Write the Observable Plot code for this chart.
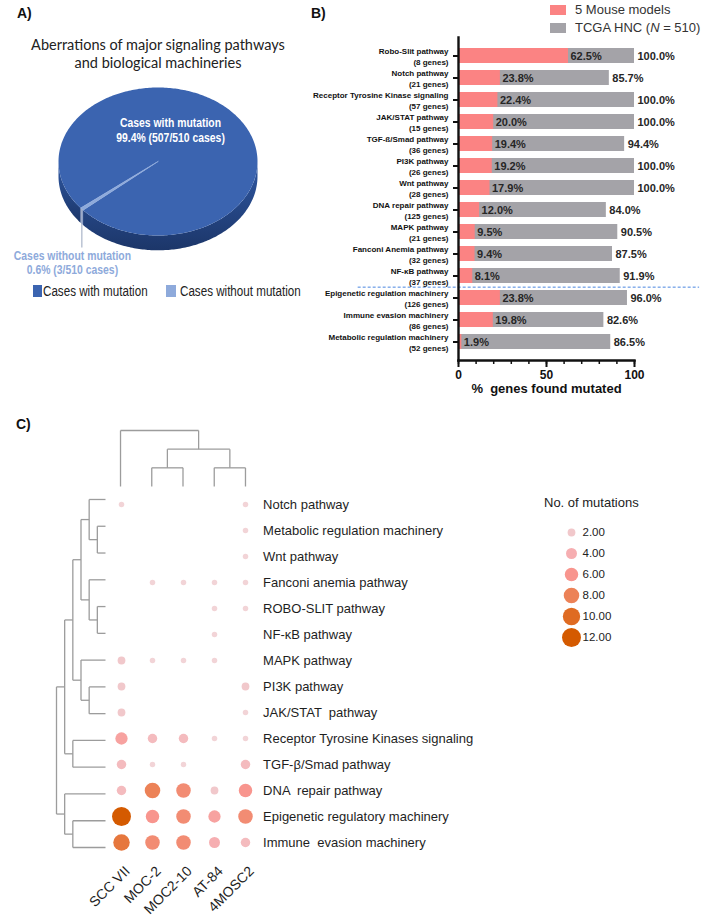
<!DOCTYPE html>
<html>
<head>
<meta charset="utf-8">
<script src="https://cdn.jsdelivr.net/npm/d3@7"></script>
<script src="https://cdn.jsdelivr.net/npm/@observablehq/plot@0.6"></script>
<style>
  html,body{margin:0;padding:0;background:#fff;}
  body{width:714px;height:921px;position:relative;overflow:hidden;font-family:"Liberation Sans",Arial,sans-serif;color:#222;}
  .abs{position:absolute;}
  .panel{font-weight:bold;font-size:14px;color:#111;}
  .narrow{transform:scaleX(0.83);transform-origin:left center;}
  svg{overflow:visible;}
</style>
</head>
<body>
<div class="abs panel" style="left:17px;top:5px">A)</div>
<div class="abs panel" style="left:311px;top:5px">B)</div>
<div class="abs panel" style="left:16px;top:416px">C)</div>
<div id="titleA" class="abs" style="left:0;top:36px;width:316px;text-align:center;font-family:Lato,'Open Sans',sans-serif;font-size:14.5px;line-height:18px;color:#222"></div>
<div id="pieA" class="abs" style="left:0;top:80px"></div>
<div id="legA" class="abs" style="left:0;top:283px;font-size:14px;color:#222"></div>
<div id="legB" class="abs" style="left:550px;top:0;font-size:13px;color:#333"></div>
<div id="barB" class="abs" style="left:300px;top:35px"></div>
<div id="dendTop" class="abs" style="left:0;top:420px"></div>
<div id="dendLeft" class="abs" style="left:0;top:470px"></div>
<div id="dotC" class="abs" style="left:0;top:470px"></div>
<div id="legCTitle" class="abs" style="left:544px;top:495px;font-size:13px;color:#222;white-space:nowrap"></div>
<div id="legC" class="abs" style="left:530px;top:515px"></div>
<script>
// ================= DATA =================
// Panel A
const pieTitle = ["Aberrations of major signaling pathways", "and biological machineries"];
const pieLabels = ["Cases with mutation", "Cases without mutation"];
const pieCases = [507, 3];
const pieTotal = 510;
const piePercent = ["99.4%", "0.6%"];

// Panel B
const barPathways = ["Robo-Slit pathway", "Notch pathway", "Receptor Tyrosine Kinase signaling", "JAK/STAT pathway",
  "TGF-ß/Smad pathway", "PI3K pathway", "Wnt pathway", "DNA repair pathway", "MAPK pathway",
  "Fanconi Anemia pathway", "NF-κB pathway", "Epigenetic regulation machinery", "Immune evasion machinery",
  "Metabolic regulation machinery"];
const barGeneCounts = [8, 21, 57, 15, 36, 26, 28, 125, 21, 32, 37, 126, 86, 52];
const mousePercent = [62.5, 23.8, 22.4, 20.0, 19.4, 19.2, 17.9, 12.0, 9.5, 9.4, 8.1, 23.8, 19.8, 1.9];
const tcgaPercent = [100.0, 85.7, 100.0, 100.0, 94.4, 100.0, 100.0, 84.0, 90.5, 87.5, 91.9, 96.0, 82.6, 86.5];
const barSeries = ["5 Mouse models", "TCGA HNC"];
const tcgaN = 510;
const barSeparatorAfter = "NF-κB pathway";
const barXTicks = [0, 50, 100];
const barXMinorTicks = [0, 10, 20, 30, 40, 50, 60, 70, 80, 90, 100];
const barXLabel = "%  genes found mutated";

// Panel C
const models = ["SCC VII", "MOC-2", "MOC2-10", "AT-84", "4MOSC2"];
const dotPathways = ["Notch pathway", "Metabolic regulation machinery", "Wnt pathway", "Fanconi anemia pathway",
  "ROBO-SLIT pathway", "NF-κB pathway", "MAPK pathway", "PI3K pathway", "JAK/STAT  pathway",
  "Receptor Tyrosine Kinases signaling", "TGF-β/Smad pathway", "DNA  repair pathway",
  "Epigenetic regulatory machinery", "Immune  evasion machinery"];
const mutationCounts = [
  [1, 0, 0, 0, 1],
  [0, 0, 0, 0, 1],
  [0, 0, 0, 0, 1],
  [0, 1, 1, 1, 1],
  [0, 0, 0, 1, 1],
  [0, 0, 0, 1, 0],
  [2, 1, 1, 1, 0],
  [2, 0, 0, 0, 2],
  [2, 0, 0, 0, 1],
  [5, 3, 3, 1, 1],
  [3, 1, 1, 0, 3],
  [3, 8, 7, 2, 6],
  [12, 6, 7, 5, 7],
  [9, 7, 7, 4, 3]
];
const legendCounts = [2, 4, 6, 8, 10, 12];
const legendTitle = "No. of mutations";
// dendrograms: [left, right, mergeLevel], leaves are row / column indices
const rowTree = [
  [
    [
      [[0, [1, 2, 1], 2], [3, [4, 5, 1], 2], 3],
      [6, [7, 8, 2], 3],
      4
    ],
    [9, 10, 4],
    5
  ],
  [11, [12, 13, 4], 5],
  6
];
const colTree = [0, [[1, 2, 1], [3, 4, 1], 2], 3];

// ================= STYLE =================
const FONT = "Liberation Sans, Arial, sans-serif";
const pieColors = ["#3b64b0", "#8eaadb"];
const pieSideColors = ["url(#pieSide)", "#7890c4"];
const barColors = ["#fb8383", "#a4a3a8"];
const countColorStops = ["#f2d4d7", "#f1c8cb", "#f6aeb1", "#f8958e", "#ec8257", "#df6b22", "#d45a00"];
const dendroColor = "#9c9c9c";

// ================= PANEL A =================
document.getElementById("titleA").innerHTML = pieTitle.join("<br>");
const deg = Math.PI / 180;
const pieStart = 231 * deg;
const pieDepth = 0.2;
const pieData = pieLabels.map((label, i) => ({label, cases: pieCases[i]}));
const arcs = d3.pie().value(d => d.cases).sort(null).startAngle(pieStart).endAngle(pieStart + 2 * Math.PI)(pieData);
function arcPts(a0, a1, off = 0) {
  const n = Math.max(2, Math.ceil(Math.abs(a1 - a0) / deg) + 1);
  return d3.range(n).map(k => {
    const a = a0 + (a1 - a0) * k / (n - 1);
    return {x: Math.sin(a), y: -Math.cos(a) + off};
  });
}
const tops = arcs.map(a => ({fill: pieColors[a.index], pts: [{x: 0, y: 0}, ...arcPts(a.startAngle, a.endAngle), {x: 0, y: 0}]}));
const sides = [];
arcs.forEach(a => {
  for (const k of [-1, 0, 1]) {
    const lo = Math.max(a.startAngle + 2 * Math.PI * k, Math.PI / 2);
    const hi = Math.min(a.endAngle + 2 * Math.PI * k, 1.5 * Math.PI);
    if (hi > lo) sides.push({fill: pieSideColors[a.index], pts: [...arcPts(lo, hi), ...arcPts(hi, lo, pieDepth)]});
  }
});
const small = arcs[1];
const midA = (small.startAngle + small.endAngle) / 2;
const leader = [{x1: Math.sin(midA), y1: -Math.cos(midA), x2: Math.sin(midA), y2: -Math.cos(midA) + 0.52}];
const withText = `${pieLabels[0]}\n${piePercent[0]} (${pieCases[0]}/${pieTotal} cases)`;
const withoutText = `${pieLabels[1]}\n${piePercent[1]} (${pieCases[1]}/${pieTotal} cases)`;

const pieSvg = Plot.plot({
  width: 300, height: 200, margin: 0,
  x: {domain: [-1, 1], range: [58, 257], axis: null},
  y: {domain: [-1, 1], range: [7, 155], axis: null},
  style: {background: "transparent", overflow: "visible", fontFamily: FONT},
  marks: [
    ...sides.map(s => Plot.line(s.pts, {x: "x", y: "y", fill: s.fill, stroke: "none"})),
    ...tops.map((s, i) => Plot.line(s.pts, {x: "x", y: "y", fill: s.fill, stroke: i === 1 ? s.fill : "none", strokeWidth: 0.8})),
    Plot.link(leader, {x1: "x1", y1: "y1", x2: "x2", y2: "y2", stroke: "#aab4c8", strokeWidth: 1.2}),
    Plot.text([withText], {x: 0.126, y: -0.43, text: d => d, fill: "white", fontWeight: "bold", fontSize: 13, lineHeight: 1.15, className: "narrowtxt"}),
    Plot.text([withoutText], {x: -0.86, y: 1.365, text: d => d, fill: pieColors[1], fontWeight: "bold", fontSize: 13, lineHeight: 1.05, className: "narrowtxt"})
  ]
});
pieSvg.insertAdjacentHTML("afterbegin", `<defs><linearGradient id="pieSide" x1="0" y1="0" x2="0" y2="1"><stop offset="0" stop-color="#2f58a3"/><stop offset="1" stop-color="#1c3669"/></linearGradient></defs>`);
// condense the label glyphs horizontally (no narrow font available)
pieSvg.querySelectorAll(".narrowtxt text").forEach(t => {
  const tr = t.getAttribute("transform") || "";
  t.setAttribute("transform", tr + " scale(0.8,1)");
});
document.getElementById("pieA").append(pieSvg);

document.getElementById("legA").innerHTML =
  `<div class="abs" style="left:33px;top:2px;width:9px;height:12px;background:${pieColors[0]}"></div>` +
  `<div class="abs narrow" style="left:43px;top:0;white-space:nowrap;line-height:16px">${pieLabels[0]}</div>` +
  `<div class="abs" style="left:166px;top:2px;width:10px;height:12px;background:${pieColors[1]}"></div>` +
  `<div class="abs narrow" style="left:180px;top:0;white-space:nowrap;line-height:16px">${pieLabels[1]}</div>`;

// ================= PANEL B =================
document.getElementById("legB").innerHTML =
  `<div class="abs" style="left:0;top:5px;width:16px;height:10px;background:${barColors[0]}"></div>` +
  `<div class="abs" style="left:25px;top:2px;white-space:nowrap;line-height:16px">${barSeries[0]}</div>` +
  `<div class="abs" style="left:0;top:23px;width:16px;height:10px;background:${barColors[1]}"></div>` +
  `<div class="abs" style="left:25px;top:20px;white-space:nowrap;line-height:16px">${barSeries[1]} (<i>N</i> = ${tcgaN})</div>`;

const bData = barPathways.map((name, i) => ({name, genes: barGeneCounts[i], mouse: mousePercent[i], tcga: tcgaPercent[i]}));
const genesByName = new Map(bData.map(d => [d.name, d.genes]));
const barSvg = Plot.plot({
  width: 414, height: 375,
  marginLeft: 158, marginRight: 80, marginTop: 2, marginBottom: 50,
  insetTop: 4.85, insetBottom: 5.85,
  x: {domain: [0, 100], axis: null},
  y: {type: "band", domain: barPathways, paddingInner: 0.33, paddingOuter: 0.165, axis: null},
  style: {background: "transparent", overflow: "visible", fontFamily: FONT, color: "#111"},
  marks: [
    Plot.barX(bData, {x: "tcga", y: "name", fill: barColors[1]}),
    Plot.barX(bData, {x: "mouse", y: "name", fill: barColors[0]}),
    Plot.text(bData, {x: "mouse", y: "name", text: d => d.mouse.toFixed(1) + "%", textAnchor: "start", dx: 2, fontWeight: "bold", fontSize: 11, fill: "#262626"}),
    Plot.text(bData, {x: "tcga", y: "name", text: d => d.tcga.toFixed(1) + "%", textAnchor: "start", dx: 3, fontWeight: "bold", fontSize: 11, fill: "#262626"}),
    Plot.ruleY([barSeparatorAfter], {y: d => d, dy: 11.15, x1: -57, x2: 137, stroke: "#4a86e0", strokeDasharray: "3,2", strokeWidth: 1}),
    Plot.axisY({tickSize: 5, tickPadding: 5, strokeWidth: 2, fontSize: 8, fontWeight: "bold", lineHeight: 1.4, label: null,
      tickFormat: d => `${d}\n(${genesByName.get(d)} genes)`}),
    Plot.axisX({ticks: barXMinorTicks, tickSize: 4, strokeWidth: 1.5, tickFormat: () => "", label: null}),
    Plot.axisX({ticks: barXTicks, tickSize: 7, strokeWidth: 2, tickPadding: 3, fontSize: 12, fontWeight: "bold", label: null}),
    Plot.frame({anchor: "left", strokeWidth: 2.4}),
    Plot.frame({anchor: "bottom", strokeWidth: 2.4}),
    Plot.text([barXLabel], {frameAnchor: "bottom", dy: 32, fontWeight: "bold", fontSize: 13, fill: "#111"})
  ]
});
document.getElementById("barB").append(barSvg);

// ================= PANEL C =================
function dendroSegments(tree) {
  const segs = [];
  (function walk(n) {
    if (typeof n === "number") return {p: n, h: 0};
    const a = walk(n[0]), b = walk(n[1]), h = n[2];
    segs.push({p1: a.p, h1: a.h, p2: a.p, h2: h}, {p1: b.p, h1: b.h, p2: b.p, h2: h}, {p1: a.p, h1: h, p2: b.p, h2: h});
    return {p: (a.p + b.p) / 2, h};
  })(tree);
  return segs;
}
const rowSegs = dendroSegments(rowTree);
const colSegs = dendroSegments(colTree);

const dendLeftSvg = Plot.plot({
  width: 110, height: 450, margin: 0,
  x: {domain: [0, 6], range: [105, 56], axis: null},
  y: {domain: [-0.5, dotPathways.length - 0.5], range: [15.6, 390.4], axis: null},
  style: {background: "transparent", overflow: "visible"},
  marks: [Plot.link(rowSegs, {x1: "h1", y1: "p1", x2: "h2", y2: "p2", stroke: dendroColor, strokeWidth: 1.3})]
});
document.getElementById("dendLeft").append(dendLeftSvg);

const dendTopSvg = Plot.plot({
  width: 714, height: 70, margin: 0,
  x: {domain: [-0.5, models.length - 0.5], range: [104.4, 260.6], axis: null},
  y: {domain: [0, 3], range: [66, 10], axis: null},
  style: {background: "transparent", overflow: "visible"},
  marks: [Plot.link(colSegs, {x1: "p1", y1: "h1", x2: "p2", y2: "h2", stroke: dendroColor, strokeWidth: 1.3})]
});
document.getElementById("dendTop").append(dendTopSvg);

const cells = [];
dotPathways.forEach((p, i) => models.forEach((m, j) => {
  const v = mutationCounts[i][j];
  if (v > 0) cells.push({pathway: p, model: m, count: v});
}));
const rScale = {type: "sqrt", domain: [0, 12], range: [0, 9.5]};
const colorScale = {type: "linear", domain: [1, 2, 4, 6, 8, 10, 12], range: countColorStops, interpolate: "rgb"};

const dotSvg = Plot.plot({
  width: 714, height: 451,
  marginLeft: 104.4, marginRight: 453.4, marginTop: 15.6, marginBottom: 60.6,
  x: {type: "point", domain: models, padding: 0.5, axis: null},
  y: {type: "point", domain: dotPathways, padding: 0.5, axis: null},
  r: rScale, color: colorScale,
  style: {background: "transparent", overflow: "visible", fontFamily: FONT, color: "#1e1e1e"},
  marks: [
    Plot.dot(cells, {x: "model", y: "pathway", r: "count", fill: "count"}),
    Plot.axisY({anchor: "right", tickSize: 0, tickPadding: 2, fontSize: 13, label: null}),
    Plot.axisX({anchor: "bottom", tickSize: 0, tickPadding: 8, tickRotate: -45, fontSize: 14, dx: 6, label: null})
  ]
});
document.getElementById("dotC").append(dotSvg);

document.getElementById("legCTitle").textContent = legendTitle;
const legSvg = Plot.plot({
  width: 140, height: 135, marginLeft: 41, marginRight: 0, marginTop: 4.2, marginBottom: 1.2,
  y: {type: "point", domain: legendCounts, padding: 0.5, axis: null},
  r: rScale, color: colorScale,
  style: {background: "transparent", overflow: "visible", fontFamily: FONT, color: "#222"},
  marks: [
    Plot.dot(legendCounts, {y: d => d, r: d => d, fill: d => d, frameAnchor: "left"}),
    Plot.text(legendCounts, {y: d => d, text: d => d.toFixed(2), frameAnchor: "left", dx: 11, textAnchor: "start", fontSize: 11.5, fill: "#222"})
  ]
});
document.getElementById("legC").append(legSvg);
</script>
</body>
</html>
